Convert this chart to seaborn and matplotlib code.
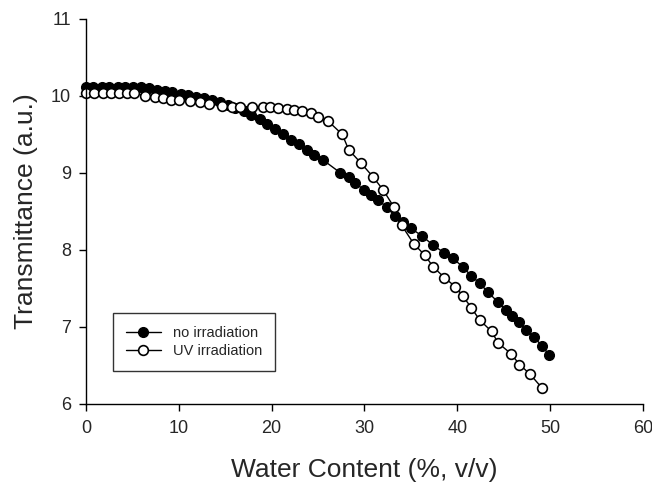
import matplotlib
matplotlib.use('Agg')
import matplotlib.pyplot as plt
import seaborn as sns
import pandas as pd

# Transmittance vs water content
no_irr_x = [0.0, 0.8, 1.7, 2.5, 3.4, 4.2, 5.1, 5.9, 6.8, 7.6, 8.5, 9.3, 10.2, 11.0,
            11.9, 12.7, 13.6, 14.4, 15.3, 16.1, 17.0, 17.8, 18.7, 19.5, 20.4, 21.2,
            22.1, 22.9, 23.8, 24.6, 25.5, 27.4, 28.3, 29.0, 29.9, 30.7, 31.5, 32.4,
            33.3, 34.1, 35.0, 36.2, 37.4, 38.6, 39.5, 40.6, 41.5, 42.4, 43.3, 44.4,
            45.2, 45.9, 46.6, 47.4, 48.3, 49.1, 49.9]
no_irr_y = [10.12, 10.12, 10.12, 10.12, 10.12, 10.12, 10.12, 10.11, 10.10, 10.08,
            10.06, 10.05, 10.03, 10.01, 9.99, 9.97, 9.94, 9.92, 9.88, 9.84, 9.80,
            9.75, 9.70, 9.64, 9.57, 9.50, 9.43, 9.37, 9.30, 9.23, 9.17, 9.00, 8.94,
            8.87, 8.78, 8.71, 8.65, 8.55, 8.44, 8.36, 8.28, 8.18, 8.06, 7.96, 7.89,
            7.78, 7.66, 7.57, 7.45, 7.32, 7.22, 7.14, 7.06, 6.96, 6.87, 6.75, 6.64]

uv_x = [0.0, 0.9, 1.8, 2.7, 3.6, 4.4, 5.2, 6.3, 7.4, 8.3, 9.2, 10.0, 11.2, 12.3,
        13.3, 14.6, 15.7, 16.6, 17.9, 19.1, 19.8, 20.7, 21.7, 22.4, 23.3, 24.2,
        25.0, 26.1, 27.6, 28.3, 29.6, 30.9, 32.0, 33.2, 34.0, 35.3, 36.5, 37.4,
        38.6, 39.8, 40.6, 41.5, 42.4, 43.7, 44.4, 45.8, 46.7, 47.8, 49.1]
uv_y = [10.04, 10.04, 10.04, 10.04, 10.04, 10.04, 10.04, 10.00, 9.98, 9.97, 9.95,
        9.94, 9.93, 9.92, 9.90, 9.87, 9.86, 9.86, 9.86, 9.86, 9.86, 9.84, 9.83,
        9.82, 9.80, 9.78, 9.73, 9.67, 9.50, 9.30, 9.13, 8.95, 8.78, 8.55, 8.32,
        8.08, 7.93, 7.78, 7.64, 7.52, 7.40, 7.25, 7.09, 6.94, 6.79, 6.65, 6.51,
        6.39, 6.21]

df_no = pd.DataFrame({'x': no_irr_x, 'y': no_irr_y})
df_uv = pd.DataFrame({'x': uv_x, 'y': uv_y})

sns.set_style('ticks')
plt.rcParams['font.family'] = ['Liberation Sans', 'DejaVu Sans']

fig = plt.figure(figsize=(6.52, 4.83), dpi=100)
ax = fig.add_axes([0.132, 0.164, 0.854, 0.797])

sns.lineplot(data=df_no, x='x', y='y', ax=ax, color='black', linewidth=1.0,
             marker='o', markersize=7, markerfacecolor='black',
             markeredgecolor='black', markeredgewidth=1.0,
             label='no irradiation', clip_on=False, sort=False)
sns.lineplot(data=df_uv, x='x', y='y', ax=ax, color='black', linewidth=1.0,
             marker='o', markersize=7, markerfacecolor='white',
             markeredgecolor='black', markeredgewidth=1.2,
             label='UV irradiation', clip_on=False, sort=False)

ax.set_xlim(0, 60)
ax.set_ylim(6, 11)
ax.set_xticks([0, 10, 20, 30, 40, 50, 60])
ax.set_yticks([6, 7, 8, 9, 10, 11])
ax.set_xlabel('Water Content (%, v/v)', fontsize=19, labelpad=15)
ax.set_ylabel('Transmittance (a.u.)', fontsize=19, labelpad=9)
ax.tick_params(labelsize=13, length=5, width=1, color='black', direction='out')
ax.tick_params(axis='x', pad=7)
ax.tick_params(axis='y', pad=6)
sns.despine(ax=ax)
for s in ['left', 'bottom']:
    ax.spines[s].set_color('black')
    ax.spines[s].set_linewidth(1.0)

leg = ax.legend(loc='lower left', bbox_to_anchor=(0.035, 0.065), fontsize=10.5,
                frameon=True, fancybox=False, edgecolor='black',
                handlelength=2.4, borderpad=0.9, labelspacing=0.3)
leg.get_frame().set_linewidth(1.0)

fig.savefig('out.png', dpi=100)
